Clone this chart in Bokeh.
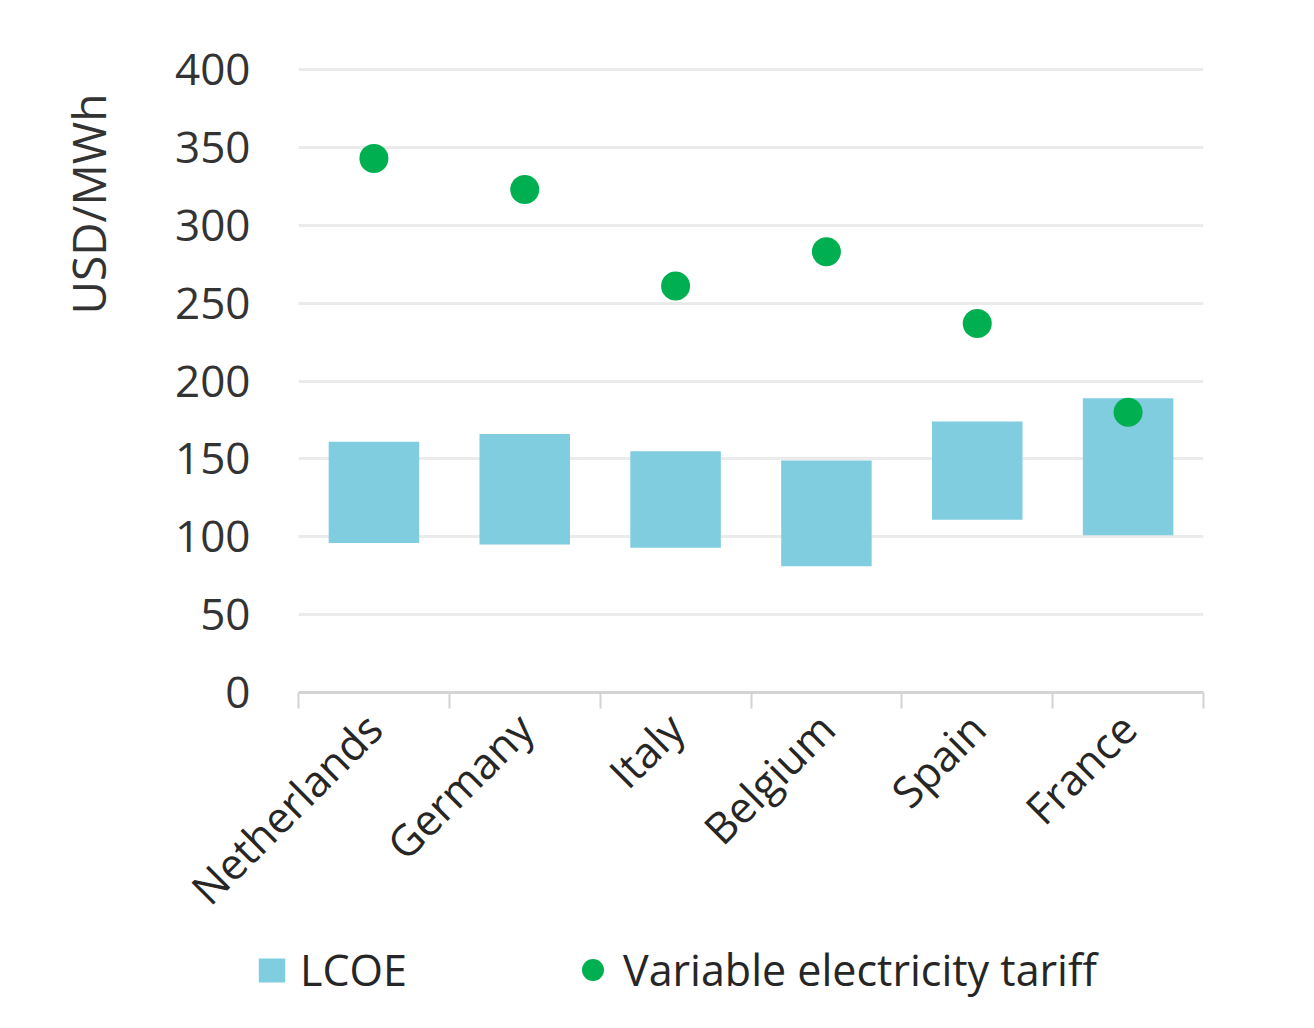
from bokeh.plotting import figure
from bokeh.models import (Range1d, FixedTicker, Legend, LegendItem, Title, ColumnDataSource)
from bokeh.embed import file_html
from bokeh.resources import INLINE

countries = ["Netherlands", "Germany", "Italy", "Belgium", "Spain", "France"]
lcoe_low = [96, 95, 93, 81, 111, 101]
lcoe_high = [161, 166, 155, 149, 174, 189]
tariff = [343, 323, 261, 283, 237, 180]
y_ticks = [0, 50, 100, 150, 200, 250, 300, 350, 400]

FONT = "Open Sans"
BAR = "#80cde0"
DOT = "#00b050"
TXT = "#333333"

# each country occupies one unit slot; marks sit at the slot centre
n = len(countries)
centres = [i + 0.5 for i in range(n)]
src = ColumnDataSource(dict(x=centres, country=countries, low=lcoe_low,
                            high=lcoe_high, tariff=tariff))

# a little headroom above 400 so its grid line is not clipped
p = figure(width=1314, height=941, x_range=Range1d(0, n), y_range=Range1d(0, 402),
           output_backend="svg", toolbar_location=None,
           min_border_left=298, min_border_right=111,
           min_border_top=66, min_border_bottom=249)
p.outline_line_color = None
p.background_fill_color = "white"
p.border_fill_color = "white"

bar_style = dict(fill_color=BAR, line_color=None)
dot_style = dict(size=29, fill_color=DOT, line_color=None)
p.vbar(x="x", bottom="low", top="high", width=0.6, source=src, **bar_style)
p.scatter(x="x", y="tariff", source=src, **dot_style)

# y axis: labels only, light grid
yax = p.yaxis[0]
yax.ticker = FixedTicker(ticks=y_ticks)
yax.axis_line_color = None
yax.major_tick_line_color = None
yax.minor_tick_line_color = None
yax.major_label_standoff = 42
yax.major_label_text_font = FONT
yax.major_label_text_font_size = "44px"
yax.major_label_text_color = TXT
p.ygrid.ticker = FixedTicker(ticks=y_ticks[1:])
p.ygrid.grid_line_color = "#ebebeb"
p.ygrid.grid_line_width = 3
p.xgrid.grid_line_color = None

# x axis: tick marks between countries, names at slot centres
xax = p.xaxis[0]
xax.ticker = FixedTicker(ticks=centres, minor_ticks=list(range(n + 1)))
xax.major_label_overrides = {c: name for c, name in zip(centres, countries)}
xax.axis_line_color = "#d4d4d4"
xax.axis_line_width = 3
xax.major_tick_line_color = None
xax.minor_tick_line_color = "#d4d4d4"
xax.minor_tick_line_width = 2
xax.minor_tick_in = 0
xax.minor_tick_out = 16
xax.major_label_orientation = 0.785398
xax.major_label_standoff = 12
xax.major_label_text_font = FONT
xax.major_label_text_font_size = "43px"
xax.major_label_text_color = "#262626"

ytitle = Title(text="USD/MWh", align="right", text_font=FONT, text_font_size="46px",
               text_font_style="normal", text_color=TXT, offset=27, standoff=108)
p.add_layout(ytitle, "left")

# legend strip underneath the chart
leg = figure(width=1314, height=87, x_range=Range1d(0, 1), y_range=Range1d(0, 1),
             x_axis_type=None, y_axis_type=None, output_backend="svg",
             toolbar_location=None, min_border=0, min_border_left=0,
             min_border_right=0, min_border_top=0, min_border_bottom=0)
leg.outline_line_color = None
leg.grid.visible = False
# key glyphs sit outside the strip's visible range; only their legend entries show
offscreen = ColumnDataSource(dict(x=[-5], y=[-5], top=[-4]))
key_bar = leg.vbar(x="x", bottom="y", top="top", width=0.1, source=offscreen, **bar_style)
key_dot = leg.scatter(x="x", y="y", source=offscreen, **dot_style)

legend_text = dict(orientation="horizontal", padding=0, margin=0, border_line_color=None,
                   background_fill_alpha=0, label_text_font=FONT,
                   label_text_font_size="43px", label_text_color="#262626")
bar_key = Legend(items=[LegendItem(label="LCOE", renderers=[key_bar])],
                 location=(255, 29), glyph_width=33, glyph_height=30,
                 label_standoff=12, **legend_text)
dot_key = Legend(items=[LegendItem(label="Variable electricity tariff", renderers=[key_dot])],
                 location=(565, 29), glyph_width=55, glyph_height=55,
                 label_standoff=3, **legend_text)
leg.add_layout(bar_key, "center")
leg.add_layout(dot_key, "center")

open("out.html", "w").write(file_html([p, leg], INLINE))
